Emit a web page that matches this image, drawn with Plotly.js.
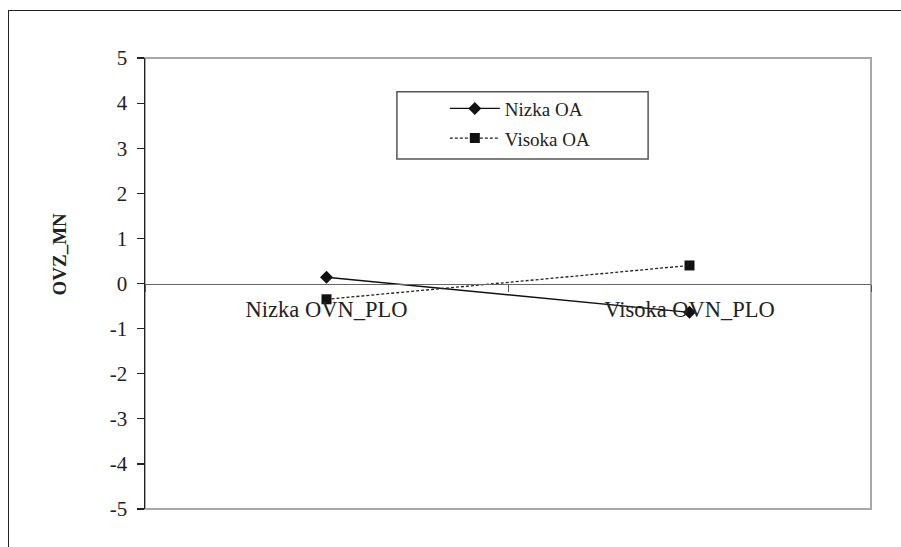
<!DOCTYPE html>
<html>
<head>
<meta charset="utf-8">
<script src="https://cdn.plot.ly/plotly-3.0.1.min.js"></script>
<style>
  html, body { margin: 0; padding: 0; background: #fff; }
  #frame { position: absolute; left: 8px; top: 10px; width: 1200px; height: 1200px;
           border-left: 1.5px solid #222; border-top: 1.5px solid #222; pointer-events: none; z-index: 5; }
  #chart { width: 901px; height: 547px; }
</style>
</head>
<body>
<div id="frame"></div>
<div id="chart"></div>
<script>
const categories = ["Nizka OVN_PLO", "Visoka OVN_PLO"];
const nizkaOA = [0.14, -0.64];
const visokaOA = [-0.35, 0.40];
const seriesNames = ["Nizka OA", "Visoka OA"];
const yTicks = [-5, -4, -3, -2, -1, 0, 1, 2, 3, 4, 5];
const yTitle = "OVZ_MN";

const serif = "'Liberation Serif', 'Times New Roman', 'DejaVu Serif', serif";

const traces = [
  {
    x: categories, y: nizkaOA, name: seriesNames[0], type: "scatter", mode: "lines+markers",
    line: { color: "#111", width: 1.4 },
    marker: { symbol: "diamond", size: 10, color: "#111" },
    legendgroup: "a"
  },
  {
    x: categories, y: visokaOA, name: seriesNames[1], type: "scatter", mode: "lines+markers",
    line: { color: "#222", width: 1.3, dash: "3px,2px" },
    marker: { symbol: "square", size: 10, color: "#111" },
    legendgroup: "b"
  }
];

const layout = {
  width: 901, height: 547,
  margin: { l: 145, r: 30, t: 58, b: 38 },
  paper_bgcolor: "#fff", plot_bgcolor: "#fff",
  font: { family: serif, color: "#222" },
  showlegend: true,
  legend: {
    x: 0.413, y: 0.93, xanchor: "left", yanchor: "top",
    bgcolor: "rgba(0,0,0,0)", borderwidth: 0,
    font: { family: serif, size: 19, color: "#222" },
    itemwidth: 50, traceorder: "grouped", tracegroupgap: 2
  },
  xaxis: {
    type: "category", range: [-0.5, 1.5],
    anchor: "free", position: 0.5,
    showline: true, linecolor: "#666", linewidth: 1.5,
    showgrid: false, zeroline: false,
    ticks: "outside", tickson: "boundaries", ticklen: 7, tickcolor: "#555", tickwidth: 1,
    ticklabelstandoff: 5,
    tickfont: { family: serif, size: 22.5, color: "#222" },
    fixedrange: true
  },
  yaxis: {
    range: [-5, 5], tickvals: yTicks, ticktext: yTicks.map(String),
    showline: true, linecolor: "#222", linewidth: 1.5,
    showgrid: false, zeroline: false,
    ticks: "outside", ticklen: 7, tickcolor: "#222", tickwidth: 1.2,
    ticklabelstandoff: 5,
    tickfont: { family: serif, size: 21, color: "#222" },
    fixedrange: true
  },
  annotations: [
    { text: "<b>" + yTitle + "</b>", xref: "paper", yref: "paper", x: -0.118, y: 0.565,
      xanchor: "center", yanchor: "middle", textangle: -90, showarrow: false,
      font: { family: serif, size: 19, color: "#222" } }
  ],
  shapes: [
    { type: "rect", xref: "paper", yref: "paper", x0: 0, x1: 1, y0: 0, y1: 1,
      line: { color: "#a8a8a8", width: 2 }, layer: "below" },
    { type: "rect", xref: "paper", yref: "paper", x0: 0.347, x1: 0.693, y0: 0.776, y1: 0.925,
      line: { color: "#555", width: 1.5 }, fillcolor: "rgba(0,0,0,0)", layer: "above" }
  ]
};

Plotly.newPlot("chart", traces, layout, { displayModeBar: false, staticPlot: true });
</script>
</body>
</html>
